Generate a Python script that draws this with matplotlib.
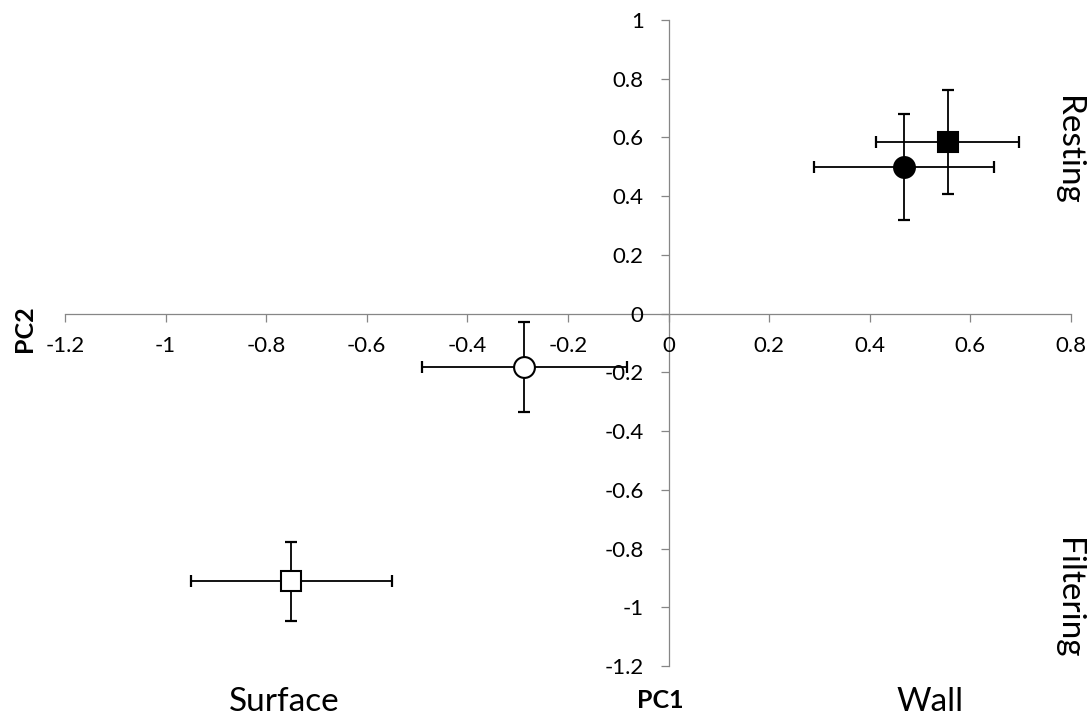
import numpy as np
import matplotlib
matplotlib.use("Agg")
import matplotlib.pyplot as plt
from matplotlib.ticker import FixedLocator, FuncFormatter

plt.rcParams['font.family'] = ['Lato', 'DejaVu Sans']

# Data
groups = ["Wall resting", "Wall filtering?", "Surface resting", "Surface filtering"]
pc1 = [0.468, 0.555, -0.287, -0.750]
pc2 = [0.500, 0.585, -0.181, -0.912]
pc1_err = [0.179, 0.142, 0.204, 0.200]
pc2_err = [0.181, 0.178, 0.154, 0.134]
x_ticks = [-1.2, -1.0, -0.8, -0.6, -0.4, -0.2, 0.0, 0.2, 0.4, 0.6, 0.8]
y_ticks = [-1.2, -1.0, -0.8, -0.6, -0.4, -0.2, 0.0, 0.2, 0.4, 0.6, 0.8, 1.0]

# Styles
markers = ['o', 's', 'o', 's']
faces = ['black', 'black', 'white', 'white']

W, H = 1089, 715
fig = plt.figure(figsize=(W / 100, H / 100), dpi=100)
ax = fig.add_axes([65 / W, 1 - 666 / H, 1006 / W, 646 / H])
ax.set_xlim(-1.2, 0.8)
ax.set_ylim(-1.2, 1.0)

axis_col = '#868686'
for s in ['top', 'right']:
    ax.spines[s].set_visible(False)
for s in ['left', 'bottom']:
    ax.spines[s].set_position(('data', 0))
    ax.spines[s].set_color(axis_col)
    ax.spines[s].set_linewidth(0.9)

fmt = FuncFormatter(lambda v, p: "%g" % round(v, 2))
ax.xaxis.set_major_locator(FixedLocator(x_ticks))
ax.yaxis.set_major_locator(FixedLocator(y_ticks))
ax.xaxis.set_major_formatter(fmt)
ax.yaxis.set_major_formatter(fmt)
ax.tick_params(axis='both', direction='out', length=6, width=0.9, color=axis_col,
               labelsize=16, labelcolor='black')
ax.tick_params(axis='x', pad=10)
ax.tick_params(axis='y', pad=12)

for i in range(len(pc1)):
    ax.errorbar(pc1[i], pc2[i], xerr=pc1_err[i], yerr=pc2_err[i], fmt='none',
                ecolor='black', elinewidth=1.3, capsize=4.5, capthick=1.6, zorder=3)
    ax.plot(pc1[i], pc2[i], marker=markers[i], markersize=15, markerfacecolor=faces[i],
            markeredgecolor='black', markeredgewidth=1.5, linestyle='none', zorder=4)

ax.set_axisbelow(False)
ax.xaxis.set_zorder(5)
ax.yaxis.set_zorder(5)

def fx(px):
    return px / W

def fy(py):
    return 1 - py / H

fig.text(fx(660), fy(701), "PC1", fontsize=18, fontweight='bold', ha='center', va='center')
fig.text(fx(25), fy(329), "PC2", fontsize=18, fontweight='bold', ha='center', va='center',
         rotation=90)
fig.text(fx(284), fy(711), "Surface", fontsize=24, ha='center', va='baseline')
fig.text(fx(930), fy(711), "Wall", fontsize=24, ha='center', va='baseline')
fig.text(fx(1068), fy(150), "Resting", fontsize=24, ha='center', va='center', rotation=-90)
fig.text(fx(1068), fy(598), "Filtering", fontsize=24, ha='center', va='center', rotation=-90)

fig.savefig("out.png", dpi=100)
